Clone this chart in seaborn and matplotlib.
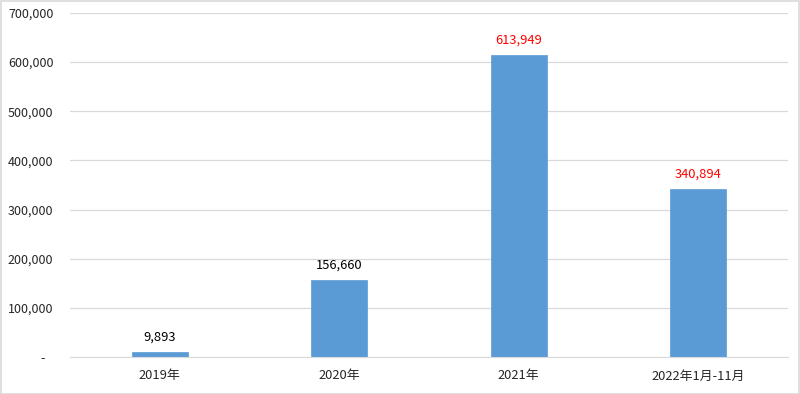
import matplotlib
matplotlib.use('Agg')
import pandas as pd
import matplotlib.pyplot as plt
import seaborn as sns

categories = ['2019年', '2020年', '2021年', '2022年1月-11月']
values = [9893, 156660, 613949, 340894]
label_colors = ['#000000', '#000000', '#FF0000', '#FF0000']
y_ticks = [0, 100000, 200000, 300000, 400000, 500000, 600000, 700000]
y_tick_labels = ['-   ', '100,000', '200,000', '300,000', '400,000', '500,000', '600,000', '700,000']

df = pd.DataFrame({'category': categories, 'value': values})

sns.set_style('white')
plt.rcParams['font.family'] = ['Noto Sans CJK TC', 'DejaVu Sans']

fig = plt.figure(figsize=(8, 3.94), dpi=100)
ax = fig.add_axes([0.0875, 0.094, 0.8975, 0.873])
sns.barplot(data=df, x='category', y='value', color='#5B9BD5', width=0.31,
            saturation=1, ax=ax, edgecolor='#5B9BD5', linewidth=0.5)

ax.set_ylim(0, 700000)
ax.set_xlim(-0.5, 3.5)
ax.set_yticks(y_ticks)
ax.set_yticklabels(y_tick_labels, fontsize=9, color='#262626')
ax.tick_params(axis='x', labelsize=9.3, colors='#262626', length=0, pad=9)
ax.tick_params(axis='y', length=0, pad=12)
ax.yaxis.grid(True, color='#d9d9d9', linewidth=0.9)
ax.set_axisbelow(True)
ax.set_xlabel('')
ax.set_ylabel('')
for side in ['left', 'right', 'top']:
    ax.spines[side].set_visible(False)
ax.spines['bottom'].set_color('#d9d9d9')

for i, v in enumerate(values):
    ax.annotate(f'{v:,}', (i, v), xytext=(0, 6), textcoords='offset points',
                ha='center', va='bottom', fontsize=9.3, color=label_colors[i])

fig.patches.append(plt.Rectangle((0.001, 0.001), 0.998, 0.997, transform=fig.transFigure,
                                 fill=False, edgecolor='#d9d9d9', linewidth=1.2))
fig.savefig('out.png', dpi=100)
